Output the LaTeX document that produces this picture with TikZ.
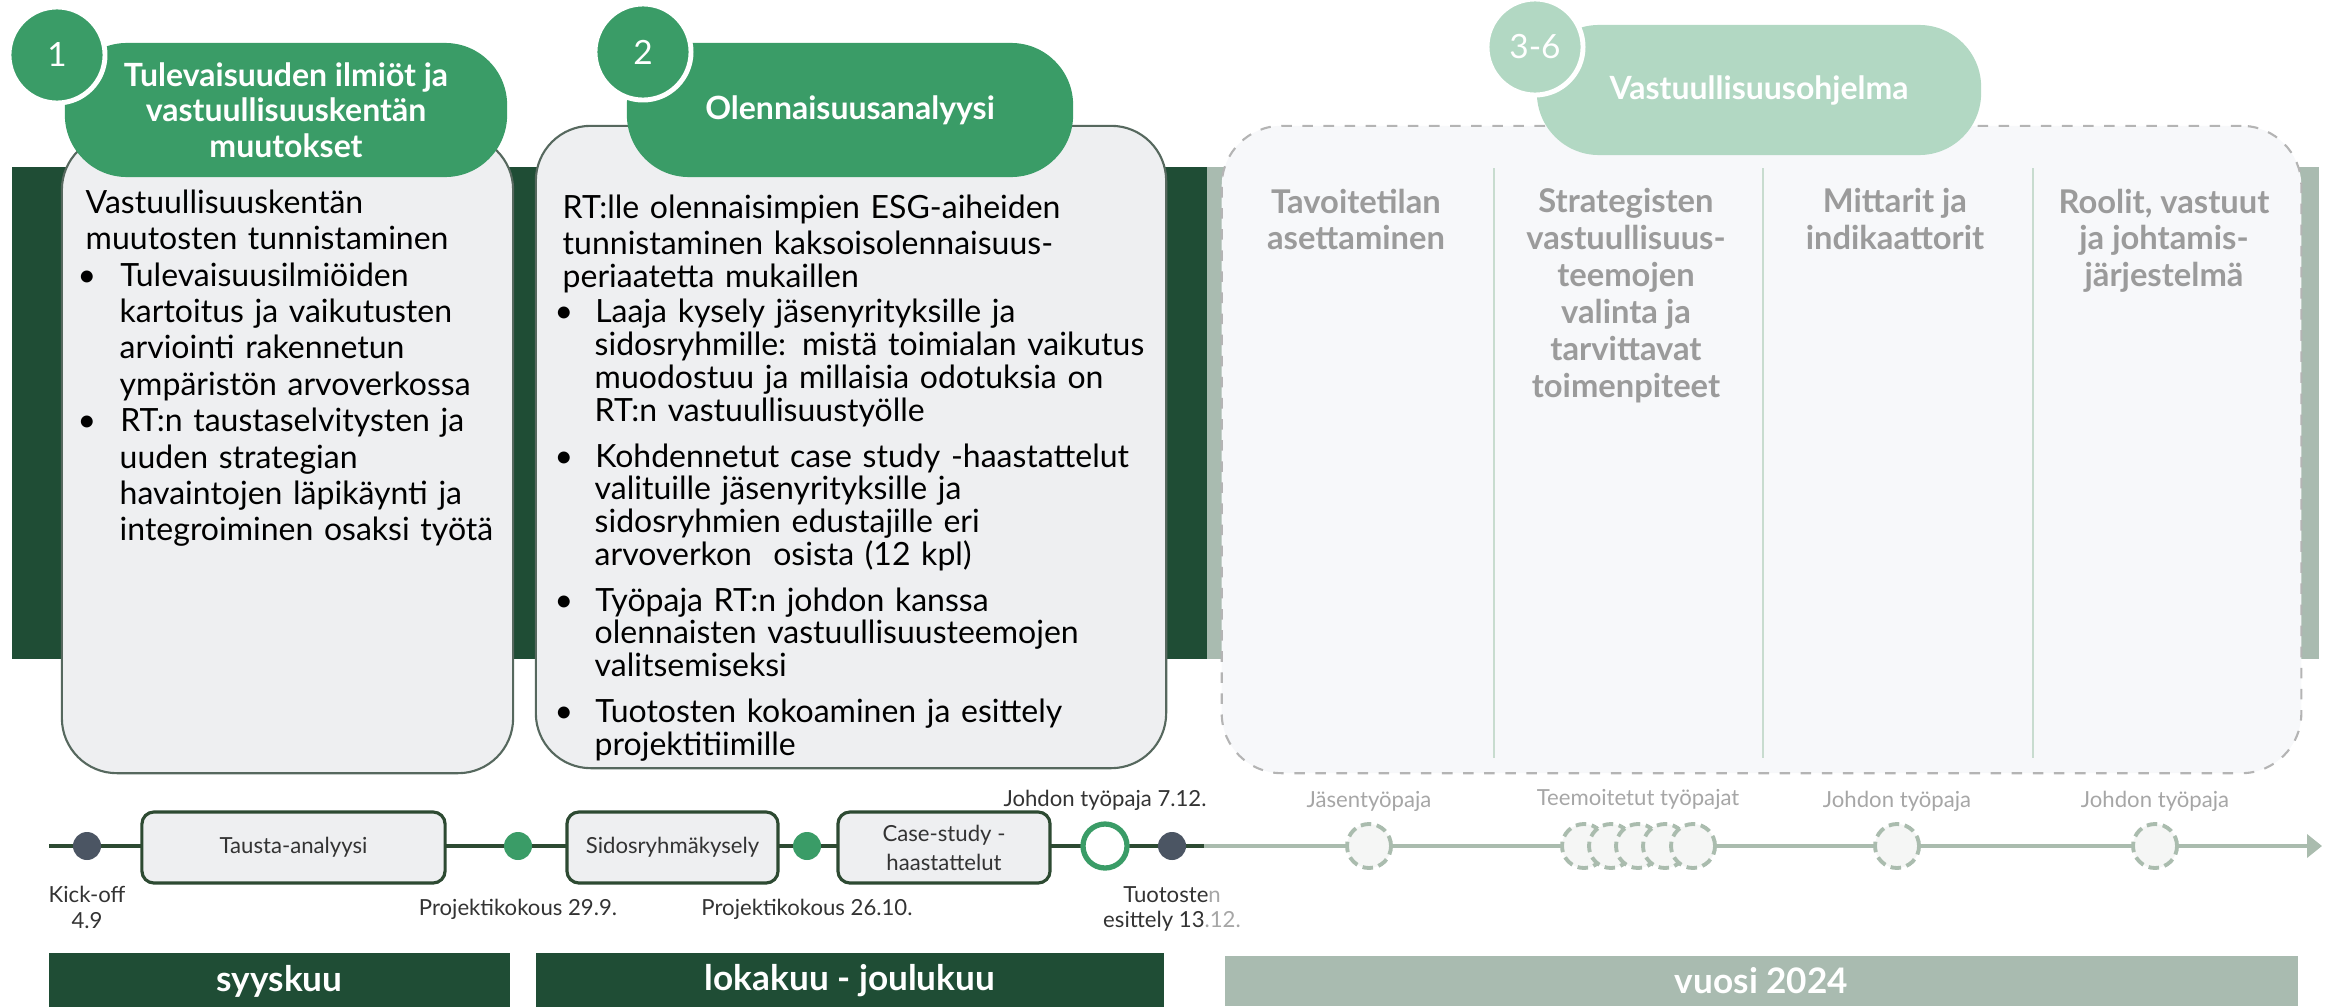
\documentclass[tikz,border=0pt]{standalone}
\usepackage{fontspec}
\setmainfont{Lato}
\usepackage{enumitem}
\usetikzlibrary{positioning, arrows.meta}
\definecolor{bandDark}{HTML}{1F4D35}
\definecolor{bandLight}{HTML}{A9BBB0}
\definecolor{pillGreen}{HTML}{3A9C67}
\definecolor{pillLight}{HTML}{B2D8C3}
\definecolor{cardFill}{HTML}{EEEFF1}
\definecolor{cardEdge}{HTML}{56685E}
\definecolor{planFill}{HTML}{F7F8FA}
\definecolor{planEdge}{HTML}{B4B4B4}
\definecolor{planSep}{HTML}{C8DCCF}
\definecolor{headGrey}{HTML}{9B9B9B}
\definecolor{axisDark}{HTML}{2D4A32}
\definecolor{axisLight}{HTML}{AABCAE}
\definecolor{dotSlate}{HTML}{4B5563}
\definecolor{labDark}{HTML}{333333}
\definecolor{labLight}{HTML}{A6A6A6}
\definecolor{ringFill}{HTML}{F5F6F5}
\newcommand{\blt}{\hspace{-0.08cm}\textbullet}

\begin{document}
\begin{tikzpicture}[x=0.01cm, y=-0.01cm,
    card/.style = {draw=cardEdge, line width=0.6pt, fill=cardFill, rounded corners=0.55cm},
    plan/.style = {draw=planEdge, dashed, line width=0.6pt, fill=planFill, rounded corners=0.6cm},
    pill/.style = {fill=#1, rounded corners=0.62cm, text=white, align=center,
                   font=\bfseries\fontsize{9.1}{10.1}\selectfont},
    num/.style = {circle, draw=white, line width=1.4pt, fill=#1, minimum size=0.96cm,
                  inner sep=0pt, text=white, font=\fontsize{9.5}{11}\selectfont},
    body/.style = {anchor=north west, inner sep=0pt, align=left, text=black},
    colhead/.style = {anchor=north, inner sep=0pt, align=center, text=headGrey,
                      font=\bfseries\fontsize{9.3}{10.5}\selectfont},
    month/.style = {fill=#1, minimum height=0.5cm, text=white,
                    font=\bfseries\fontsize{10}{12}\selectfont},
    phase/.style = {draw=axisDark, line width=0.9pt, fill=cardFill, rounded corners=0.12cm,
                    minimum height=0.71cm, align=center, text=labDark,
                    font=\fontsize{6.3}{8.2}\selectfont},
    dot/.style = {circle, fill=#1, minimum size=0.28cm, inner sep=0pt},
    ring/.style = {circle, draw=pillGreen, line width=1.5pt, fill=white, minimum size=0.44cm},
    later/.style = {circle, draw=axisLight, dashed, line width=1.1pt, fill=ringFill,
                    minimum size=0.44cm, dash pattern=on 3pt off 1.6pt},
    tlabel/.style = {inner sep=0pt, align=center, text=#1, font=\fontsize{6.3}{7.3}\selectfont}]
    \useasboundingbox (0,0) rectangle (2331,1006);

    % bands behind the cards
    \fill[bandDark] (12,167) rectangle (1207,659);
    \fill[bandLight] (1207,167) rectangle (2319,659);

    % phase 1
    \node[card, minimum width=4.51cm, minimum height=6.38cm] (cardA) at (287.5,454) {};
    \node[body, text width=4.35cm, font=\fontsize{9.1}{10.35}\selectfont] (txtA) at (85,189)
        {Vastuullisuuskentän\\muutosten tunnistaminen
        \begin{itemize}[label=\blt, leftmargin=0.34cm, labelwidth=0.1cm, labelsep=0.24cm,
                        align=left, topsep=0pt, partopsep=0pt, parsep=0pt, itemsep=0pt]
        \item Tulevaisuusilmiöiden\\kartoitus ja vaikutusten\\arviointi rakennetun\\ympäristön arvoverkossa
        \item RT:n taustaselvitysten ja\\uuden strategian\\havaintojen läpikäynti ja\\integroiminen osaksi työtä
        \end{itemize}};
    \node[pill=pillGreen, minimum width=4.42cm, minimum height=1.34cm] (headA) at (286,110)
        {Tulevaisuuden ilmiöt ja\\vastuullisuuskentän\\muutokset};
    \node[num=pillGreen] (numA) at (57,55) {1};

    % phase 2
    \node[card, minimum width=6.30cm, minimum height=6.42cm] (cardB) at (851,447) {};
    \node[body, text width=6.0cm, font=\fontsize{9.1}{10.35}\selectfont] (txtB) at (562,194)
        {RT:lle olennaisimpien ESG-aiheiden\\tunnistaminen kaksoisolennaisuus-\\periaatetta mukaillen
        \begin{itemize}[label=\blt, leftmargin=0.32cm, labelwidth=0.1cm, labelsep=0.22cm,
                        align=left, topsep=0.8pt, partopsep=0pt, parsep=0pt, itemsep=3.8pt,
                        before=\fontsize{9.1}{9.3}\selectfont]
        \item Laaja kysely jäsenyrityksille ja\\sidosryhmille: mistä toimialan vaikutus\\muodostuu ja millaisia odotuksia on\\RT:n vastuullisuustyölle
        \item Kohdennetut case study -haastattelut\\valituille jäsenyrityksille ja\\sidosryhmien edustajille eri\\arvoverkon\ \ osista (12 kpl)
        \item Työpaja RT:n johdon kanssa\\olennaisten vastuullisuusteemojen\\valitsemiseksi
        \item Tuotosten kokoaminen ja esittely\\projektitiimille
        \end{itemize}};
    \node[pill=pillGreen, minimum width=4.46cm, minimum height=1.34cm] (headB) at (850,110)
        {Olennaisuusanalyysi};
    \node[num=pillGreen] (numB) at (643,52) {2};

    % phases 3-6
    \node[plan, minimum width=10.79cm, minimum height=6.47cm] (plan) at (1761.5,449.5) {};
    \foreach \x in {1494,1763,2033}
        \draw[planSep, line width=0.8pt] (\x,168) -- (\x,758);
    \node[colhead] (colA) at (1356,188) {Tavoitetilan\\asettaminen};
    \node[colhead] (colB) at (1626,188) {Strategisten\\vastuullisuus-\\teemojen\\valinta ja\\tarvittavat\\toimenpiteet};
    \node[colhead] (colC) at (1895,188) {Mittarit ja\\indikaattorit};
    \node[colhead] (colD) at (2164,188) {Roolit, vastuut\\ja johtamis-\\järjestelmä};
    \node[pill=pillLight, minimum width=4.44cm, minimum height=1.30cm] (headC) at (1759,90)
        {Vastuullisuusohjelma};
    \node[num=pillLight] (numC) at (1535,47) {3-6};

    % timeline
    \coordinate (tlStart) at (49,846);
    \coordinate (tlMid) at (1204,846);
    \coordinate (tlEnd) at (2322,846);
    \draw[axisDark, line width=1pt] (tlStart) -- (tlMid);
    \draw[axisLight, line width=1.1pt, -{Triangle[length=0.15cm, width=0.23cm]}] (tlMid) -- (tlEnd);

    \node[dot=dotSlate] (kick) at (87,846) {};
    \node[phase, minimum width=3.03cm] (tausta) at (293.5,847.5) {Tausta-analyysi};
    \node[dot=pillGreen] (pk1) at (518,846) {};
    \node[phase, minimum width=2.11cm] (sidos) at (672.5,847.5) {Sidosryhmäkysely};
    \node[dot=pillGreen] (pk2) at (807,846) {};
    \node[phase, minimum width=2.12cm] (cases) at (944,847.5) {Case-study -\\haastattelut};
    \node[ring] (johto) at (1105,846) {};
    \node[dot=dotSlate] (tuot) at (1172,846) {};

    \node[later] (jas) at (1369,846) {};
    \foreach \x [count=\i] in {1584,1611,1638,1665,1693}
        \node[later] (teem\i) at (\x,846) {};
    \node[later] (jtA) at (1897,846) {};
    \node[later] (jtB) at (2155,846) {};

    % labels
    \node[tlabel=labDark, below=0.25cm of kick] (kickLab) {Kick-off\\4.9};
    \node[tlabel=labDark, below=0.38cm of pk1] (pk1Lab) {Projektikokous 29.9.};
    \node[tlabel=labDark, below=0.38cm of pk2] (pk2Lab) {Projektikokous 26.10.};
    \node[tlabel=labDark, above=0.1cm of johto] (johtoLab) {Johdon työpaja 7.12.};
    \node[tlabel=labDark, below=0.25cm of tuot] (tuotLab)
        {Tuotoste\textcolor{labLight}{n}\\esittely 13\textcolor{labLight}{.12.}};
    \node[tlabel=labLight, above=0.1cm of jas] (jasLab) {Jäsentyöpaja};
    \node[tlabel=labLight, above=0.12cm of teem3] (teemLab) {Teemoitetut työpajat};
    \node[tlabel=labLight, above=0.1cm of jtA] (jtALab) {Johdon työpaja};
    \node[tlabel=labLight, above=0.1cm of jtB] (jtBLab) {Johdon työpaja};

    % months
    \node[month=bandDark, minimum width=4.61cm] (syys) at (279.5,981) {syyskuu};
    \node[month=bandDark, minimum width=6.28cm] (loka) at (850,981) {lokakuu - joulukuu};
    \node[month=bandLight, minimum width=10.73cm] (vuosi) at (1761.5,981) {vuosi 2024};
\end{tikzpicture}
\end{document}
